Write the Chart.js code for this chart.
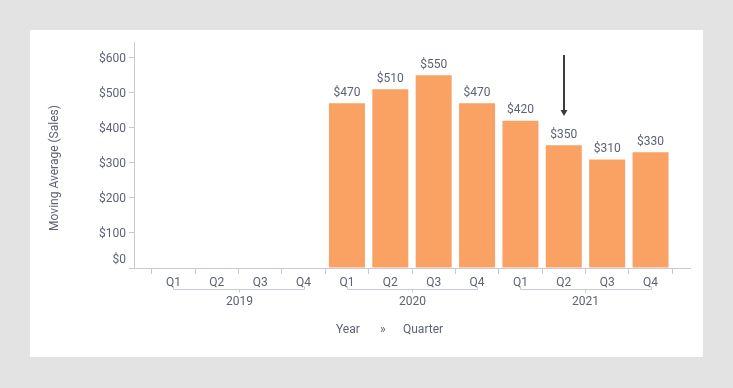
<!DOCTYPE html>
<html>
<head>
<meta charset="utf-8">
<script src="https://cdn.jsdelivr.net/npm/chart.js@4/dist/chart.umd.min.js"></script>
<style>
  html, body { margin: 0; padding: 0; background: #e3e3e3; width: 733px; height: 388px; overflow: hidden; }
  #panel { position: absolute; left: 30px; top: 30px; width: 673px; height: 327px; background: #ffffff; }
  #panel canvas { display: block; }
</style>
</head>
<body>
<div id="panel"><canvas id="c" width="673" height="327"></canvas></div>
<script>
// ---- data ----
const years = ['2019', '2020', '2021'];
const quarters = ['Q1', 'Q2', 'Q3', 'Q4'];
const categories = ['Q1', 'Q2', 'Q3', 'Q4', 'Q1', 'Q2', 'Q3', 'Q4', 'Q1', 'Q2', 'Q3', 'Q4'];
const categoryYears = ['2019', '2019', '2019', '2019', '2020', '2020', '2020', '2020', '2021', '2021', '2021', '2021'];
const movingAvgSales = [null, null, null, null, 470, 510, 550, 470, 420, 350, 310, 330];
const yTicks = [0, 100, 200, 300, 400, 500, 600];
const yTickLabels = ['$0', '$100', '$200', '$300', '$400', '$500', '$600'];
const arrowCategoryIndex = 9; // Q2 2021
const yAxisTitle = 'Moving Average (Sales)';
const xAxisTitleParts = ['Year', '»', 'Quarter'];

const TEXT = '#5d6274';
const AXIS = '#c9c9d5';
const BAR = '#f9a263';
const FONT = 'Roboto, "Liberation Sans", sans-serif';
const DY = 1.5; // vertical text nudge

const points = movingAvgSales.map((v, i) => ({ x: i, y: v }));

const decor = {
  id: 'decor',
  afterDatasetsDraw(chart) {
    const ctx = chart.ctx;
    const xs = chart.scales.x, ys = chart.scales.y;
    const area = chart.chartArea;
    ctx.save();
    ctx.font = '12px ' + FONT;
    ctx.fillStyle = TEXT;
    ctx.textAlign = 'center';
    ctx.textBaseline = 'middle';
    // value labels
    movingAvgSales.forEach((v, i) => {
      if (v == null) return;
      ctx.fillText('$' + v, xs.getPixelForValue(i), ys.getPixelForValue(v) - 12 + DY);
    });
    // y labels
    ctx.textAlign = 'right';
    yTicks.forEach((t, k) => {
      let y = ys.getPixelForValue(t);
      if (t === 0) y -= 10;
      ctx.fillText(yTickLabels[k], area.left - 8, y + DY);
    });
    // y title
    ctx.save();
    ctx.translate(23 + DY, (area.top + area.bottom) / 2 + 13);
    ctx.rotate(-Math.PI / 2);
    ctx.textAlign = 'center';
    ctx.fillText(yAxisTitle, 0, 0);
    ctx.restore();
    // quarter labels
    ctx.textAlign = 'center';
    const qy = area.bottom + 13 + DY;
    categories.forEach((q, i) => ctx.fillText(q, xs.getPixelForValue(i), qy));
    // year brackets
    ctx.strokeStyle = AXIS;
    ctx.lineWidth = 1;
    const by = area.bottom + 21.5;
    years.forEach((yr) => {
      const idx = categoryYears.map((c, i) => c === yr ? i : -1).filter(i => i >= 0);
      const x0 = Math.round(xs.getPixelForValue(idx[0])) + 0.5;
      const x1 = Math.round(xs.getPixelForValue(idx[idx.length - 1])) + 0.5;
      const xm = Math.round((xs.getPixelForValue(idx[0]) + xs.getPixelForValue(idx[idx.length - 1])) / 2) + 0.5;
      ctx.beginPath();
      ctx.moveTo(x0, by - 3); ctx.lineTo(x0, by); ctx.lineTo(x1, by); ctx.lineTo(x1, by - 3);
      ctx.moveTo(xm, by); ctx.lineTo(xm, by + 3);
      ctx.stroke();
      ctx.fillText(yr, xm, area.bottom + 32 + DY);
    });
    // x axis title
    const ty = area.bottom + 60 + DY;
    ctx.textAlign = 'left';
    ctx.fillText(xAxisTitleParts[0], 306, ty);
    ctx.fillText(xAxisTitleParts[1], 350, ty);
    ctx.fillText(xAxisTitleParts[2], 373, ty);
    // arrow
    const ax = Math.round(xs.getPixelForValue(arrowCategoryIndex));
    ctx.strokeStyle = '#3b3b3b';
    ctx.fillStyle = '#3b3b3b';
    ctx.lineWidth = 2;
    ctx.beginPath();
    ctx.moveTo(ax, 25); ctx.lineTo(ax, 82);
    ctx.stroke();
    ctx.beginPath();
    ctx.moveTo(ax - 3.5, 80); ctx.lineTo(ax + 3.5, 80); ctx.lineTo(ax, 86); ctx.closePath();
    ctx.fill();
    ctx.restore();
  }
};

new Chart(document.getElementById('c'), {
  type: 'bar',
  data: {
    datasets: [{
      data: points,
      backgroundColor: BAR,
      borderWidth: 0,
      categoryPercentage: 0.83,
      barPercentage: 1.0
    }]
  },
  options: {
    responsive: false,
    animation: false,
    events: [],
    layout: { padding: { top: 12, right: 13, left: 0, bottom: 0 } },
    plugins: { legend: { display: false }, tooltip: { enabled: false } },
    scales: {
      x: {
        type: 'linear',
        offset: false,
        min: -0.91,
        max: 11.91,
        afterBuildTicks(scale) {
          scale.ticks = categories.concat(['']).map((c, i) => ({ value: i - 0.5 }));
        },
        afterFit(scale) { scale.height = 89; },
        ticks: { display: false },
        grid: { display: true, offset: false, drawOnChartArea: false, drawTicks: true, tickLength: 6, color: AXIS, lineWidth: 1 },
        border: { display: true, color: AXIS, width: 1 }
      },
      y: {
        type: 'linear',
        min: 0,
        max: 645,
        afterBuildTicks(scale) {
          scale.ticks = yTicks.map(v => ({ value: v }));
        },
        afterFit(scale) { scale.width = 104; },
        ticks: { display: false },
        grid: { display: true, drawOnChartArea: false, drawTicks: true, tickLength: 5, color: AXIS, lineWidth: 1 },
        border: { display: true, color: AXIS, width: 1 }
      }
    }
  },
  plugins: [decor]
});
</script>
</body>
</html>
